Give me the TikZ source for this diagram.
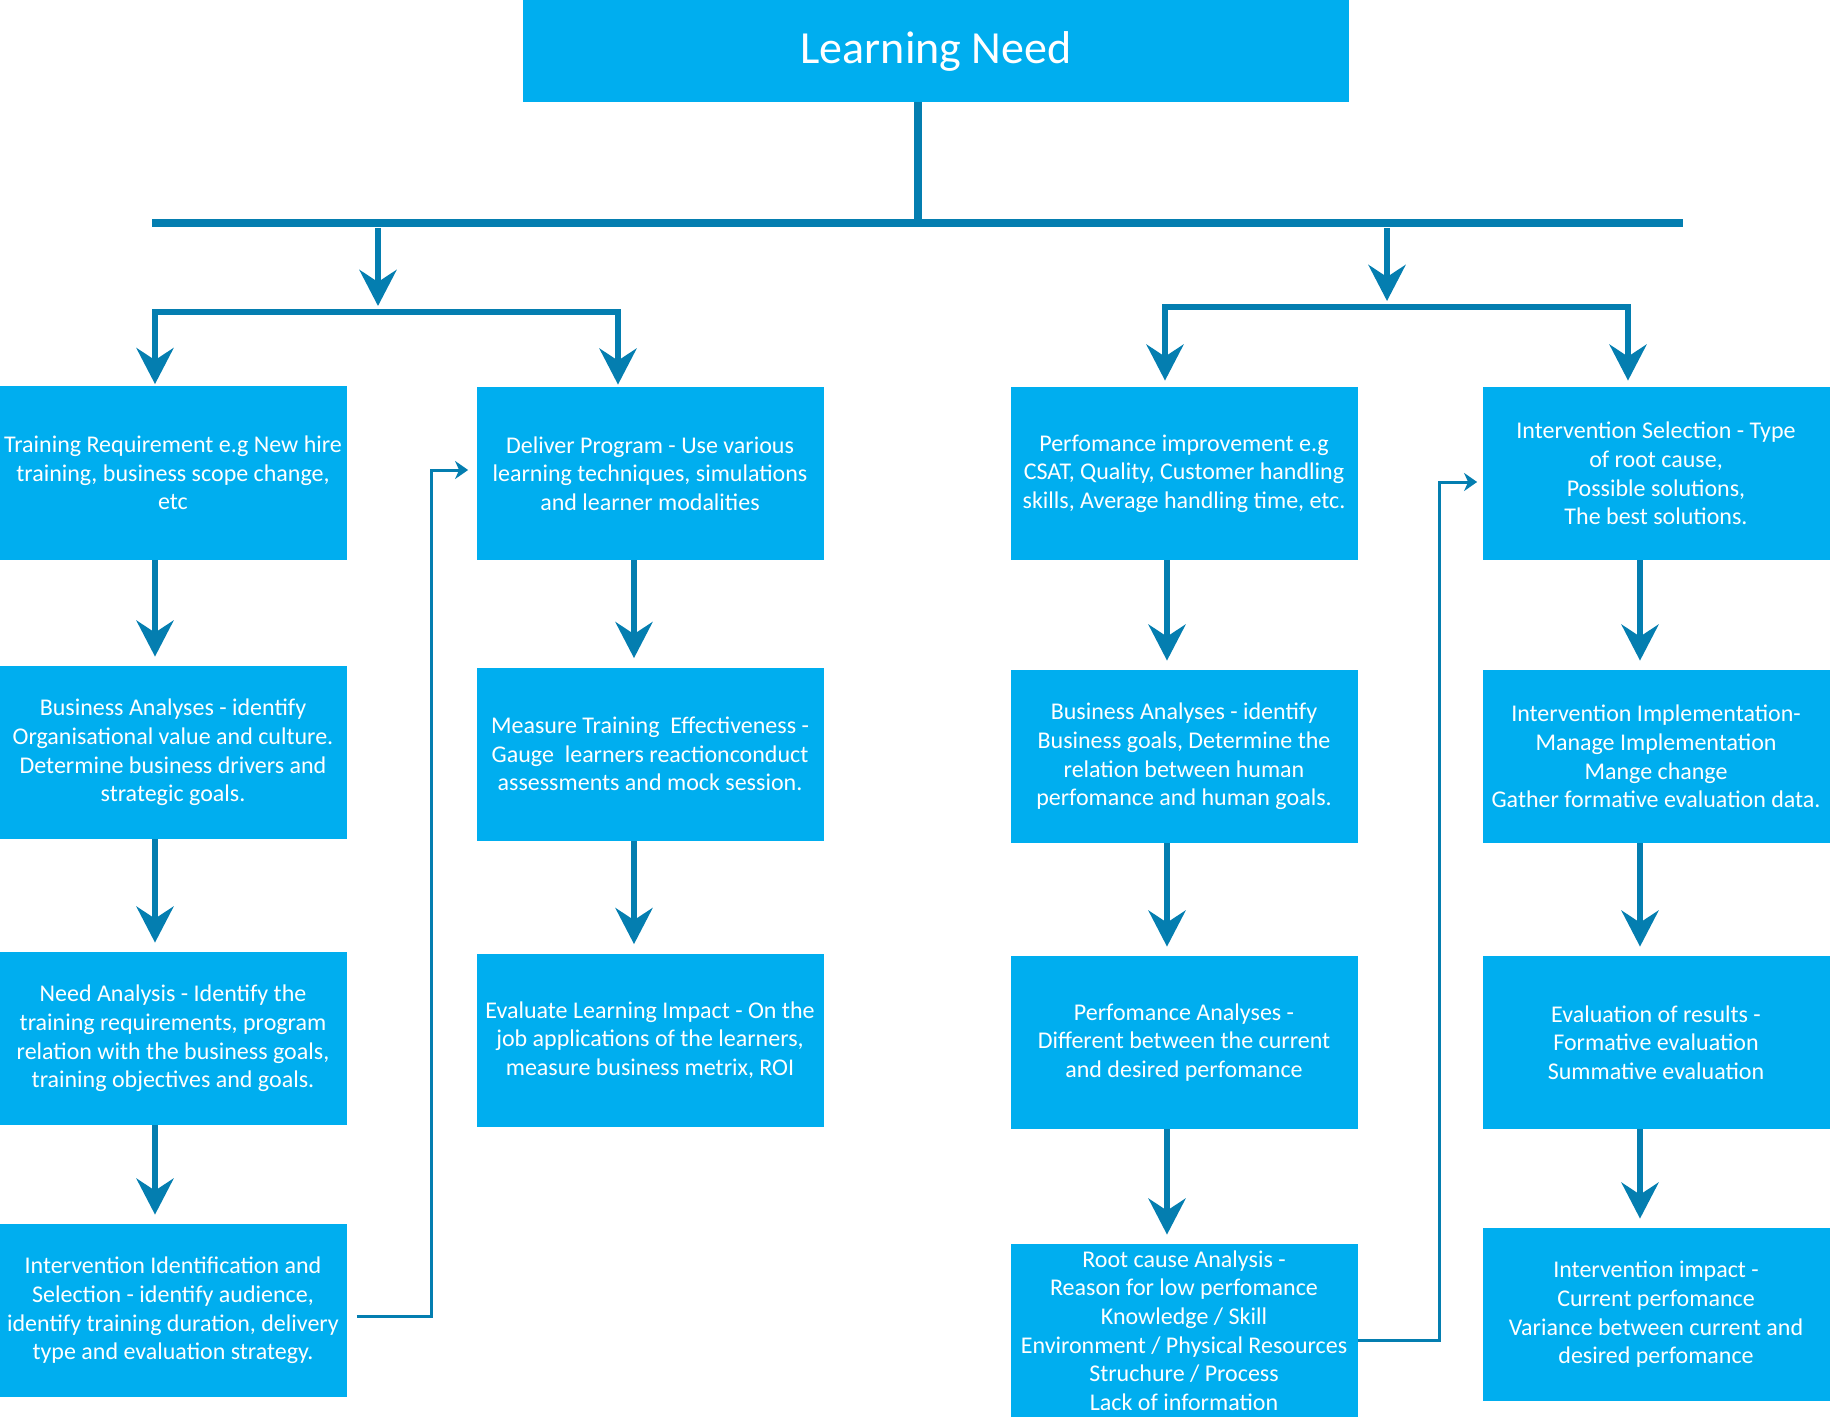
\documentclass[tikz,border=0pt]{standalone}
\usepackage{fontspec}
\setmainfont{Carlito}
\usetikzlibrary{positioning,arrows.meta}
\definecolor{boxcyan}{RGB}{0,174,239}
\definecolor{lineblue}{RGB}{4,126,176}

\begin{document}
\begin{tikzpicture}[x=0.5pt, y=-0.5pt,
  box/.style={fill=boxcyan, text=white, inner sep=0pt, minimum width=173.5pt, minimum height=86.5pt, align=center, font=\fontsize{12}{14.3}\selectfont},
  head/.style={fill=boxcyan, text=white, inner sep=0pt, minimum width=413pt, minimum height=51pt, font=\fontsize{23}{28}\selectfont},
  bigtip/.tip={Stealth[length=18pt, width=18.5pt, inset=6pt]},
  bus/.style={draw=lineblue, line width=4pt},
  flow/.style={draw=lineblue, line width=3pt, -bigtip},
  fork/.style={draw=lineblue, line width=3pt, bigtip-bigtip},
  link/.style={draw=lineblue, line width=1.5pt, -{Stealth[length=6.5pt, width=9pt, inset=2pt]}}]
  \useasboundingbox (0,0) rectangle (1830,1417);

  \node[head] (need) at (936,51) {Learning Need};

  % training side
  \node[box] (tr1) at (173,473) {Training Requirement e.g New hire\\training, business scope change,\\etc};
  \node[box] (tr2) at (173,752.5) {Business Analyses - identify\\Organisational value and culture.\\Determine business drivers and\\strategic goals.};
  \node[box] (tr3) at (173,1038.5) {Need Analysis - Identify the\\training requirements, program\\relation with the business goals,\\training objectives and goals.};
  \node[box] (tr4) at (173,1310.5) {Intervention Identification and\\Selection - identify audience,\\identify training duration, delivery\\type and evaluation strategy.};
  \node[box] (dl1) at (650,473.5) {Deliver Program - Use various\\learning techniques, simulations\\and learner modalities};
  \node[box] (dl2) at (650,754) {Measure Training\ \ Effectiveness -\\Gauge\ \ learners reactionconduct\\assessments and mock session.};
  \node[box] (dl3) at (650,1040) {Evaluate Learning Impact - On the\\job applications of the learners,\\measure business metrix, ROI};

  % performance side
  \node[box] (pf1) at (1184,473.5) {Perfomance improvement e.g\\CSAT, Quality, Customer handling\\skills, Average handling time, etc.};
  \node[box] (pf2) at (1184,756.5) {Business Analyses - identify\\Business goals, Determine the\\relation between human\\perfomance and human goals.};
  \node[box] (pf3) at (1184,1042.5) {Perfomance Analyses -\\Different between the current\\and desired perfomance};
  \node[box] (pf4) at (1184,1330.5) {Root cause Analysis -\\Reason for low perfomance\\Knowledge / Skill\\Environment / Physical Resources\\Struchure / Process\\Lack of information};
  \node[box] (iv1) at (1656,473.5) {Intervention Selection - Type\\of root cause,\\Possible solutions,\\The best solutions.};
  \node[box] (iv2) at (1656,756.5) {Intervention Implementation-\\Manage Implementation\\Mange change\\Gather formative evaluation data.};
  \node[box] (iv3) at (1656,1042.5) {Evaluation of results -\\Formative evaluation\\Summative evaluation};
  \node[box] (iv4) at (1656,1314.5) {Intervention impact -\\Current perfomance\\Variance between current and\\desired perfomance};

  % trunk and bus
  \coordinate (trunk) at (918,223);
  \coordinate (busL) at (152,223);
  \coordinate (busR) at (1683,223);
  \draw[bus] (need.south -| trunk) -- (trunk);
  \draw[bus] (busL) -- (busR);

  % branches
  \coordinate (ldrop) at (378,228);
  \coordinate (lsplit) at (378,306);
  \coordinate (lbar) at (378,312);
  \coordinate (rdrop) at (1387,228);
  \coordinate (rsplit) at (1387,301);
  \coordinate (rbar) at (1387,307);
  \coordinate (c1) at (155,0);
  \coordinate (c2) at (634,0);
  \coordinate (c3) at (1167,0);
  \coordinate (c4) at (1640,0);
  \coordinate (b2) at (618,0);
  \coordinate (b3) at (1165,0);
  \coordinate (b4) at (1628,0);
  \draw[flow] (ldrop) -- (lsplit);
  \draw[flow] (rdrop) -- (rsplit);
  \draw[fork, shorten <=1pt, shorten >=1pt] (tr1.north -| c1) |- (lbar) -| (dl1.north -| b2);
  \draw[fork, shorten <=3pt, shorten >=3pt] (pf1.north -| b3) |- (rbar) -| (iv1.north -| b4);

  % steps down each column
  \foreach \a/\b/\c in {tr1/tr2/c1, tr2/tr3/c1, tr3/tr4/c1, dl1/dl2/c2, dl2/dl3/c2,
      pf1/pf2/c3, pf2/pf3/c3, pf3/pf4/c3, iv1/iv2/c4, iv2/iv3/c4, iv3/iv4/c4}
    \draw[flow, shorten >=4.5pt] (\a.south -| \c) -- (\b.north -| \c);

  % cross links
  \draw[link] ([xshift=5pt,yshift=-2.75pt]tr4.east) -| ([xshift=-22.5pt,yshift=1.75pt]dl1.west) -- ([xshift=-4pt,yshift=1.75pt]dl1.west);
  \draw[link] ([yshift=-4.75pt]pf4.east) -| ([xshift=-21.5pt,yshift=-4.25pt]iv1.west) -- ([xshift=-2.5pt,yshift=-4.25pt]iv1.west);
\end{tikzpicture}
\end{document}
